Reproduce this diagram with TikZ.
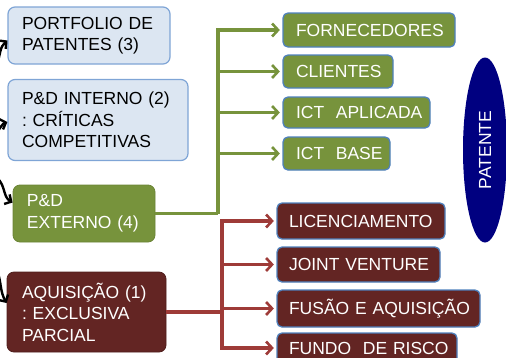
\documentclass[tikz,border=0pt]{standalone}
\usepackage{fontspec}
\setmainfont{Liberation Sans}
\usetikzlibrary{arrows.meta,shapes.geometric}
\frenchspacing
\definecolor{lbfill}{HTML}{DCE6F2}
\definecolor{lbdraw}{HTML}{7FA5D6}
\definecolor{gfill}{HTML}{77933C}
\definecolor{rfill}{HTML}{632523}
\definecolor{rline}{HTML}{9E3B38}
\definecolor{bdraw}{HTML}{4F81BD}
\definecolor{navy}{HTML}{000080}
\tikzset{
  allbox/.style={inner sep=0pt, align=left, font=\fontsize{17.5}{21.5}\selectfont},
  lbox/.style={allbox, draw=lbdraw, line width=1.2pt, fill=lbfill, rounded corners=7pt, text=black},
  gbig/.style={allbox, draw=gfill!90!black, line width=0.8pt, fill=gfill, rounded corners=7pt, text=white},
  rbig/.style={allbox, draw=rfill!80!black, line width=0.8pt, fill=rfill, rounded corners=7pt, text=white},
  gsmall/.style={allbox, draw=bdraw, line width=1.3pt, fill=gfill, rounded corners=5pt, text=white},
  rsmall/.style={allbox, draw=bdraw, line width=1.3pt, fill=rfill, rounded corners=5pt, text=white},
  garr/.style={draw=gfill, line width=3.2pt},
  rarr/.style={draw=rline, line width=3.2pt},
  tip/.style={-{Straight Barb[length=6pt,width=13pt,line width=2.6pt]}, shorten >=2.5pt},
  blk/.style={draw=black, line width=2.4pt, -{Straight Barb[length=5pt,width=11pt,line width=2.4pt]}},
}
\begin{document}
\begin{tikzpicture}[x=1pt,y=-1pt]
\useasboundingbox (0,0) rectangle (506,357);
\clip (0,0) rectangle (506,357);
% left boxes
\node[lbox, minimum width=162pt, minimum height=57pt, text width=134pt] (port) at (89,35.5) {\mbox{PORTFOLIO DE}\\\mbox{PATENTES (3)}};
\node[lbox, minimum width=180pt, minimum height=81pt, text width=152pt] (int) at (98,120) {\mbox{P\&D INTERNO (2)}\\\mbox{: CRÍTICAS}\\\mbox{COMPETITIVAS}};
\node[gbig, minimum width=142pt, minimum height=57pt, text width=114pt] (ext) at (84,213.5) {\mbox{P\&D}\\\mbox{EXTERNO (4)}};
\node[rbig, minimum width=159pt, minimum height=80pt, text width=129pt] (aqu) at (86.5,312) {\mbox{AQUISIÇÃO (1)}\\\mbox{: EXCLUSIVA}\\\mbox{PARCIAL}};
% green targets
\node[gsmall, minimum width=172pt, minimum height=34pt, text width=146pt] (forn) at (369,30) {\mbox{FORNECEDORES}};
\node[gsmall, minimum width=110pt, minimum height=33pt, text width=84pt] (cli) at (338,71.5) {\mbox{CLIENTES}};
\node[gsmall, minimum width=147pt, minimum height=31pt, text width=121pt] (icta) at (356.5,112.5) {\mbox{ICT\ \ APLICADA}};
\node[gsmall, minimum width=107pt, minimum height=33pt, text width=81pt] (ictb) at (336.5,153.5) {\mbox{ICT\ \ BASE}};
% red targets
\node[rsmall, minimum width=168pt, minimum height=36pt, text width=144pt] (lic) at (361,221) {\mbox{LICENCIAMENTO}};
\node[rsmall, minimum width=163pt, minimum height=35pt, text width=139pt] (jv) at (358.5,264.5) {\mbox{JOINT VENTURE}};
\node[rsmall, minimum width=203pt, minimum height=37pt, text width=179pt] (fus) at (378.5,308.5) {\mbox{FUSÃO E AQUISIÇÃO}};
\node[rsmall, minimum width=180pt, minimum height=30pt, text width=156pt] (fun) at (367,348) {\mbox{FUNDO\ \ DE RISCO}};
% ellipse
\node[ellipse, fill=navy, minimum width=44pt, minimum height=185pt, inner sep=0pt] (pat) at (485,150) {};
\node[rotate=90, text=white, font=\fontsize{17.5}{20}\selectfont] (patt) at (pat.center) {PATENTE};
% green connectors
\coordinate (gt) at (218,213.5);
\draw[garr] (ext.east) -- (gt);
\draw[garr,tip] (gt) |- (forn.west);
\draw[garr,tip] (gt) |- (cli.west);
\draw[garr,tip] (gt) |- (icta.west);
\draw[garr,tip] (gt) |- (ictb.west);
% red connectors
\coordinate (rt) at (222,312);
\draw[rarr] (aqu.east) -- (rt);
\draw[rarr,tip] (rt) |- (lic.west);
\draw[rarr,tip] (rt) |- (jv.west);
\draw[rarr,tip] (rt) |- (fus.west);
\draw[rarr,tip] (rt) |- (fun.west);
% black incoming arrows
\coordinate (s1) at (-3,64);
\coordinate (s2) at (-3,132);
\coordinate (s3) at (-3,178);
\coordinate (s4) at (-3,270);
\draw[blk] (s1) to[out=70,in=220] ([yshift=-5pt]port.west);
\draw[blk] (s2) to[out=50,in=200] ([yshift=-2pt]int.west);
\draw[blk] (s3) to[out=-40,in=150] ([yshift=11pt]ext.west);
\draw[blk] (s4) to[out=-70,in=120] ([yshift=9pt]aqu.west);
\end{tikzpicture}
\end{document}
